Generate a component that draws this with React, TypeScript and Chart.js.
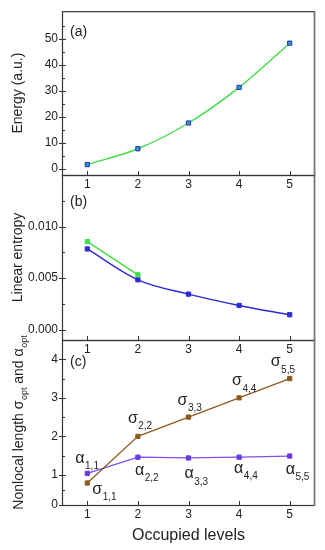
import React, { useEffect, useRef } from "react";
import { Chart, registerables } from "chart.js";

Chart.register(...registerables);

// ---------------- data ----------------
const levels = ["1", "2", "3", "4", "5"];

const energy = [1.5, 7.6, 17.5, 31.2, 48.2];
const energyTicks = [0, 10, 20, 30, 40, 50];
const energyMinor = [5, 15, 25, 35, 45, 55];

const entropyGreen = [0.00854, 0.00532, null, null, null];
const entropyBlue = [0.00783, 0.00484, 0.00345, 0.00235, 0.00145];
const entropyTicks = [0, 0.005, 0.01];
const entropyMinor = [0.0025, 0.0075, 0.0125];

const sigmaOpt = [0.79, 2.0, 2.5, 3.0, 3.5];
const alphaOpt = [1.04, 1.46, 1.44, 1.46, 1.49];
const sigmaSubs = ["1,1", "2,2", "3,3", "4,4", "5,5"];
const alphaSubs = ["1,1", "2,2", "3,3", "4,4", "5,5"];
const nlTickValues = [0.22, 1, 2, 3, 4];
const nlTickLabels = ["0", "1", "2", "3", "4"];
const nlMinor = [0.61, 1.5, 2.5, 3.5];

// ---------------- styles ----------------
const FONT = "'Liberation Sans', Arial, Helvetica, sans-serif";
const TEXT = "#222";
const GREEN = "#3ee046";
const BLUE = "#2a2ad8";
const BROWN = "#8e5a20";
const VIOLET = "#7b4ff0";

// label offsets (px) relative to each point: [dx of glyph left, dy of glyph centre]
const sigmaOffsets = [
  [5, 6],
  [-10, -18],
  [-11, -17],
  [-7, -17],
  [-19, -17],
];
const alphaOffsets = [
  [-12, -15],
  [-3, 13],
  [-4, 16],
  [-5, 11],
  [-4, 13],
];

Chart.defaults.font.family = FONT;

type Part = { t: string; sub?: boolean };

function drawRich(
  ctx: CanvasRenderingContext2D,
  parts: Part[],
  x: number,
  baseline: number,
  mainSize: number,
  subSize: number,
  subDrop: number
) {
  let cx = x;
  for (const p of parts) {
    ctx.font = `${p.sub ? subSize : mainSize}px ${FONT}`;
    ctx.fillText(p.t, cx, baseline + (p.sub ? subDrop : 0));
    cx += ctx.measureText(p.t).width + (p.sub ? 0 : 0.5);
  }
}

function measureRich(ctx: CanvasRenderingContext2D, parts: Part[], mainSize: number, subSize: number) {
  let w = 0;
  for (const p of parts) {
    ctx.font = `${p.sub ? subSize : mainSize}px ${FONT}`;
    w += ctx.measureText(p.t).width + (p.sub ? 0 : 0.5);
  }
  return w;
}

const framePlugin = {
  id: "frame",
  afterDraw(chart: any, _args: any, opts: any) {
    const { ctx, chartArea: a, scales } = chart;
    const y = scales.y;
    const x = scales.x;
    ctx.save();
    ctx.strokeStyle = "#333";
    ctx.lineWidth = 1;
    const line = (x1: number, y1: number, x2: number, y2: number) => {
      ctx.beginPath();
      ctx.moveTo(x1, y1);
      ctx.lineTo(x2, y2);
      ctx.stroke();
    };
    y.ticks.forEach((t: any) => {
      const py = Math.round(y.getPixelForValue(t.value)) + 0.5;
      line(a.left - 3, py, a.left + 4, py);
    });
    (opts.minor || []).forEach((v: number) => {
      const py = Math.round(y.getPixelForValue(v)) + 0.5;
      line(a.left, py, a.left + 3, py);
    });
    x.ticks.forEach((_t: any, i: number) => {
      const px = Math.round(x.getPixelForTick(i)) + 0.5;
      line(px, a.bottom, px, a.bottom - 4);
    });
    ctx.lineWidth = 1.2;
    ctx.strokeStyle = "#333";
    ctx.strokeRect(a.left + 0.5, a.top + 0.5, a.right - a.left - 1, a.bottom - a.top);
    ctx.strokeStyle = "#777";
    ctx.lineWidth = 1.6;
    line(a.right - 0.5, a.top, a.right - 0.5, a.bottom + 1);

    // panel label
    ctx.fillStyle = TEXT;
    ctx.font = `14px ${FONT}`;
    ctx.textBaseline = "middle";
    ctx.textAlign = "left";
    if (opts.panel) ctx.fillText(opts.panel, a.left + 8, a.top + opts.panelDy);

    // rich y title
    if (opts.richTitle) {
      const parts: Part[] = opts.richTitle;
      ctx.save();
      ctx.translate(18, (a.top + a.bottom) / 2);
      ctx.rotate(-Math.PI / 2);
      ctx.textBaseline = "alphabetic";
      const w = measureRich(ctx, parts, 14, 9);
      drawRich(ctx, parts, -w / 2, 5, 14, 9, 4);
      ctx.restore();
    }

    // data labels
    if (opts.pointLabels) {
      ctx.textBaseline = "alphabetic";
      opts.pointLabels.forEach((cfg: any) => {
        const meta = chart.getDatasetMeta(cfg.dataset);
        meta.data.forEach((pt: any, i: number) => {
          const off = cfg.offsets[i];
          const gx = pt.x + off[0];
          const gy = pt.y + off[1] + 4.5;
          drawRich(
            ctx,
            [{ t: cfg.glyph }, { t: cfg.subs[i], sub: true }],
            gx,
            gy,
            16,
            10,
            6.5
          );
        });
      });
    }
    ctx.restore();
  },
};

function baseOptions(p: {
  yMin: number;
  yMax: number;
  yTicks: number[];
  yLabel?: (v: number) => string;
  title?: string;
  xTitle?: string;
  xHeight: number;
  padTop: number;
  frame: any;
}) {
  return {
    responsive: false,
    animation: false,
    events: [],
    layout: { padding: { top: p.padTop, right: 10, left: 0, bottom: 0 } },
    plugins: {
      legend: { display: false },
      tooltip: { enabled: false },
      frame: p.frame,
    },
    scales: {
      x: {
        type: "category",
        offset: true,
        grid: { display: false, drawTicks: false },
        border: { display: false },
        ticks: { font: { size: 12 }, color: TEXT, padding: 2, maxRotation: 0 },
        title: p.xTitle
          ? { display: true, text: p.xTitle, font: { size: 16 }, color: TEXT, padding: { top: 0, bottom: 5 } }
          : { display: false },
        afterFit: (s: any) => {
          s.height = p.xHeight;
        },
      },
      y: {
        type: "linear",
        min: p.yMin,
        max: p.yMax,
        grid: { display: false, drawTicks: false },
        border: { display: false },
        ticks: {
          font: { size: 12 },
          color: TEXT,
          padding: 4,
          callback: (v: any) => (p.yLabel ? p.yLabel(Number(v)) : String(v)),
        },
        afterBuildTicks: (s: any) => {
          s.ticks = p.yTicks.map((v) => ({ value: v }));
        },
        title: p.title
          ? { display: true, text: p.title, font: { size: 14 }, color: TEXT, padding: { top: 10, bottom: 0 } }
          : { display: false },
        afterFit: (s: any) => {
          s.width = 62;
        },
      },
    },
  };
}

export default function App() {
  const refA = useRef<HTMLCanvasElement>(null);
  const refB = useRef<HTMLCanvasElement>(null);
  const refC = useRef<HTMLCanvasElement>(null);

  useEffect(() => {
    const charts: Chart[] = [];

    charts.push(
      new Chart(refA.current!, {
        type: "line",
        data: {
          labels: levels,
          datasets: [
            {
              data: energy,
              borderColor: GREEN,
              borderWidth: 1.4,
              pointStyle: "rect",
              pointRadius: 3,
              pointBackgroundColor: "#2f9cb4",
              pointBorderColor: "#2030c8",
              pointBorderWidth: 1,
              tension: 0.4,
              cubicInterpolationMode: "monotone",
            },
          ],
        },
        options: baseOptions({
          yMin: -2.5,
          yMax: 60.5,
          yTicks: energyTicks,
          title: "Energy (a.u.)",
          xHeight: 20,
          padTop: 10,
          frame: { minor: energyMinor, panel: "(a)", panelDy: 21 },
        }) as any,
        plugins: [framePlugin],
      })
    );

    charts.push(
      new Chart(refB.current!, {
        type: "line",
        data: {
          labels: levels,
          datasets: [
            {
              data: entropyGreen,
              borderColor: GREEN,
              borderWidth: 1.4,
              pointStyle: "rect",
              pointRadius: 3,
              pointBackgroundColor: GREEN,
              pointBorderColor: GREEN,
              pointBorderWidth: 1,
            },
            {
              data: entropyBlue,
              borderColor: BLUE,
              borderWidth: 1.4,
              pointStyle: "rect",
              pointRadius: 3,
              pointBackgroundColor: BLUE,
              pointBorderColor: BLUE,
              pointBorderWidth: 1,
              tension: 0.3,
              cubicInterpolationMode: "monotone",
            },
          ],
        },
        options: baseOptions({
          yMin: -0.001,
          yMax: 0.015,
          yTicks: entropyTicks,
          yLabel: (v) => v.toFixed(3),
          title: "Linear entropy",
          xHeight: 15,
          padTop: 15,
          frame: { minor: entropyMinor, panel: "(b)", panelDy: 27 },
        }) as any,
        plugins: [framePlugin],
      })
    );

    charts.push(
      new Chart(refC.current!, {
        type: "line",
        data: {
          labels: levels,
          datasets: [
            {
              data: sigmaOpt,
              borderColor: BROWN,
              borderWidth: 1.3,
              pointStyle: "rect",
              pointRadius: 3,
              pointBackgroundColor: BROWN,
              pointBorderColor: BROWN,
              pointBorderWidth: 1,
            },
            {
              data: alphaOpt,
              borderColor: VIOLET,
              borderWidth: 1.3,
              pointStyle: "rect",
              pointRadius: 3,
              pointBackgroundColor: "#6a3ae8",
              pointBorderColor: "#6a3ae8",
              pointBorderWidth: 1,
            },
          ],
        },
        options: baseOptions({
          yMin: 0.22,
          yMax: 4.5,
          yTicks: nlTickValues,
          yLabel: (v) => {
            const i = nlTickValues.indexOf(v);
            return i >= 0 ? nlTickLabels[i] : "";
          },
          xTitle: "Occupied levels",
          xHeight: 45,
          padTop: 15,
          frame: {
            minor: nlMinor,
            panel: "(c)",
            panelDy: 22,
            richTitle: [
              { t: "Nonlocal length σ" },
              { t: "opt", sub: true },
              { t: " and α" },
              { t: "opt", sub: true },
            ],
            pointLabels: [
              { dataset: 0, glyph: "σ", subs: sigmaSubs, offsets: sigmaOffsets },
              { dataset: 1, glyph: "α", subs: alphaSubs, offsets: alphaOffsets },
            ],
          },
        }) as any,
        plugins: [framePlugin],
      })
    );

    return () => charts.forEach((c) => c.destroy());
  }, []);

  const cv = (top: number, h: number): React.CSSProperties => ({
    position: "absolute",
    left: 0,
    top,
    width: 325,
    height: h,
  });

  return (
    <div style={{ position: "absolute", left: 0, top: 0, width: 325, height: 550, background: "#fff" }}>
      <canvas ref={refA} width={325} height={195} style={cv(0, 195)} />
      <canvas ref={refB} width={325} height={195} style={cv(160, 195)} />
      <canvas ref={refC} width={325} height={225} style={cv(325, 225)} />
    </div>
  );
}
